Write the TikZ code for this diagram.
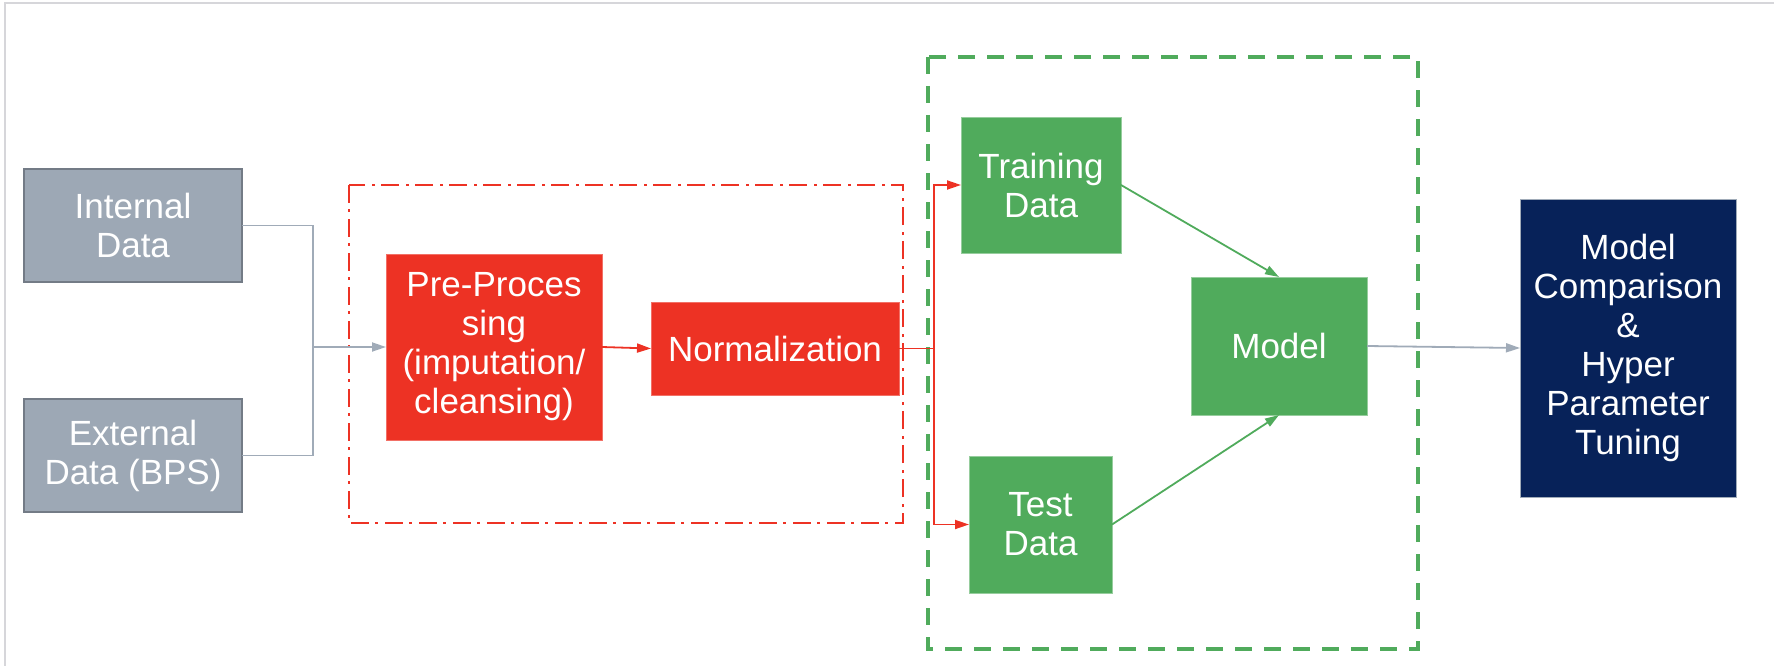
\documentclass[tikz,border=0pt]{standalone}
\usepackage{fontspec}
\setmainfont{Liberation Sans}
\usetikzlibrary{arrows.meta}
\definecolor{boxgray}{RGB}{157,168,181}
\definecolor{boxgrayline}{RGB}{115,123,134}
\definecolor{linegray}{RGB}{160,171,184}
\definecolor{pred}{RGB}{237,50,36}
\definecolor{pgreen}{RGB}{80,171,92}
\definecolor{pnavy}{RGB}{7,34,89}
\definecolor{framegray}{RGB}{214,214,218}
\begin{document}
\begin{tikzpicture}[x=1pt,y=-1pt,
  box/.style={rectangle, inner sep=0pt, outer sep=0pt, align=center, text=white,
              font=\fontsize{35}{39}\selectfont},
  graybox/.style={box, fill=boxgray, draw=boxgrayline, line width=2pt},
  redbox/.style={box, fill=pred, draw=pred!70!white, line width=0.8pt},
  greenbox/.style={box, fill=pgreen, draw=pgreen!60!white, line width=0.8pt},
  navybox/.style={box, fill=pnavy, draw=linegray, line width=0.8pt},
  grayarrow/.style={draw=linegray, line width=1.8pt, -{Triangle[length=14pt,width=9pt]}},
  grayline/.style={draw=linegray, line width=1.8pt},
  redarrow/.style={draw=pred, line width=1.8pt, -{Triangle[length=14pt,width=9pt]}},
  redline/.style={draw=pred, line width=1.8pt},
  greenarrow/.style={draw=pgreen, line width=1.8pt, -{Triangle[length=14pt,width=9pt]}},
  redframe/.style={draw=pred, line width=2pt, dash pattern=on 18pt off 6pt on 3pt off 7pt},
  greenframe/.style={draw=pgreen, line width=4.5pt, dash pattern=on 17pt off 12pt}
]
\useasboundingbox (0,0) rectangle (1774,666);
% outer frame
\draw[framegray, line width=2pt] (5,666) -- (5,3) -- (1774,3);

% group frames
\draw[redframe] (349,185) rectangle (903,523);
\draw[greenframe] (928,57) rectangle (1418,649);

% nodes
\node[graybox, minimum width=218pt, minimum height=113pt] (intl) at (133,225.5) {Internal\\Data};
\node[graybox, minimum width=218pt, minimum height=113pt] (extl) at (133,455.5) {External\\Data (BPS)};
\node[redbox, minimum width=216pt, minimum height=186pt] (pre) at (494,347) {Pre-Proces\\sing\\(imputation/\\cleansing)};
\node[redbox, minimum width=248pt, minimum height=93pt] (norm) at (775,348.5) {Normalization};
\node[greenbox, minimum width=160pt, minimum height=136pt] (train) at (1041,185) {Training\\Data};
\node[greenbox, minimum width=143pt, minimum height=137pt] (test) at (1040.5,524.5) {Test\\Data};
\node[greenbox, minimum width=176pt, minimum height=138pt] (model) at (1279,346) {Model};
\node[navybox, minimum width=216pt, minimum height=298pt] (cmp) at (1628,348) {Model\\Comparison\\\&\\Hyper\\Parameter\\Tuning};

% connectors
\coordinate (join) at (313,347);
\coordinate (split) at (934,348.5);
\draw[grayline] (intl.east) -| (join);
\draw[grayline] (extl.east) -| (join);
\draw[grayarrow] (join) -- (pre.west);
\draw[redarrow] (pre.east) -- (norm.west);
\draw[redline] (norm.east) -- (split);
\draw[redarrow] (split) |- (train.west);
\draw[redarrow] (split) |- (test.west);
\draw[greenarrow] (train.east) -- (model.north);
\draw[greenarrow] (test.east) -- (model.south);
\draw[grayarrow] (model.east) -- (cmp.west);
\end{tikzpicture}
\end{document}
